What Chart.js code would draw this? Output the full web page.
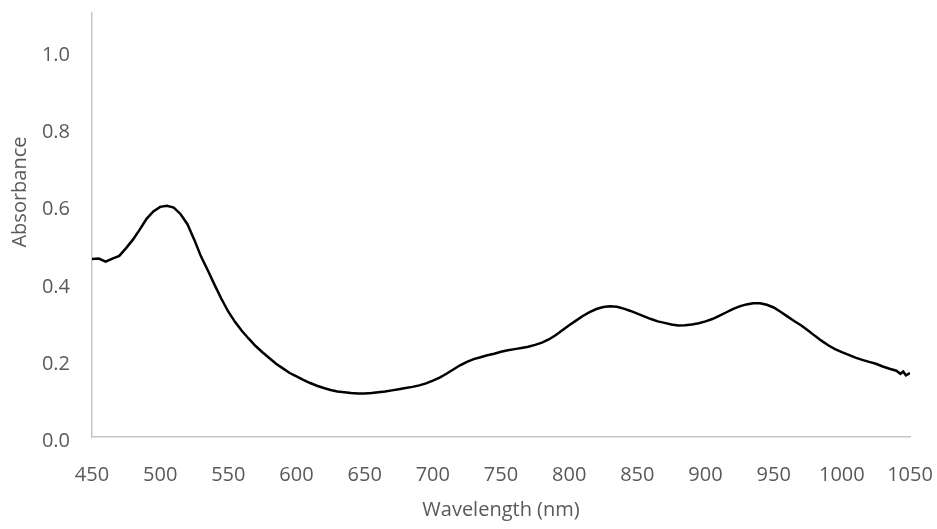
<!DOCTYPE html>
<html>
<head>
<meta charset="utf-8">
<script src="https://cdn.jsdelivr.net/npm/chart.js@4.4.1/dist/chart.umd.min.js"></script>
<style>
  html, body { margin: 0; padding: 0; background: #fff; }
  #wrap { width: 937px; height: 529px; position: relative; }
</style>
</head>
<body>
<div id="wrap"><canvas id="spectrum"></canvas></div>
<script>
// wavelength (nm) and absorbance
const wavelengths = [
    450, 455, 460, 465, 470, 475, 480, 485, 490, 495,
    500, 505, 510, 515, 520, 525, 530, 535, 540, 545,
    550, 555, 560, 565, 570, 575, 580, 585, 590, 595,
    600, 605, 610, 615, 620, 625, 630, 635, 640, 645,
    650, 655, 660, 665, 670, 675, 680, 685, 690, 695,
    700, 705, 710, 715, 720, 725, 730, 735, 740, 745,
    750, 755, 760, 765, 770, 775, 780, 785, 790, 795,
    800, 805, 810, 815, 820, 825, 830, 835, 840, 845,
    850, 855, 860, 865, 870, 875, 880, 885, 890, 895,
    900, 905, 910, 915, 920, 925, 930, 935, 940, 945,
    950, 955, 960, 965, 970, 975, 980, 985, 990, 995,
    1000, 1005, 1010, 1015, 1020, 1025, 1030, 1035, 1040, 1043,
    1045, 1047, 1050
];
const absorbance = [
    0.462, 0.463, 0.455, 0.463, 0.470, 0.490, 0.512, 0.538, 0.566, 0.585,
    0.597, 0.600, 0.595, 0.578, 0.552, 0.512, 0.468, 0.432, 0.394, 0.358,
    0.325, 0.298, 0.275, 0.255, 0.236, 0.220, 0.205, 0.190, 0.178, 0.166,
    0.157, 0.148, 0.140, 0.133, 0.127, 0.122, 0.118, 0.116, 0.114, 0.113,
    0.113, 0.114, 0.116, 0.118, 0.121, 0.124, 0.127, 0.130, 0.134, 0.139,
    0.146, 0.154, 0.164, 0.175, 0.186, 0.195, 0.202, 0.207, 0.212, 0.216,
    0.221, 0.225, 0.228, 0.231, 0.234, 0.239, 0.245, 0.253, 0.264, 0.277,
    0.290, 0.302, 0.314, 0.324, 0.332, 0.337, 0.339, 0.338, 0.333, 0.327,
    0.320, 0.313, 0.306, 0.300, 0.296, 0.292, 0.289, 0.290, 0.292, 0.295,
    0.300, 0.306, 0.314, 0.323, 0.332, 0.339, 0.344, 0.347, 0.347, 0.343,
    0.336, 0.325, 0.313, 0.301, 0.290, 0.277, 0.263, 0.250, 0.238, 0.228,
    0.220, 0.213, 0.206, 0.200, 0.195, 0.190, 0.183, 0.177, 0.172, 0.164,
    0.170, 0.160, 0.166
];
const xTicks = [450, 500, 550, 600, 650, 700, 750, 800, 850, 900, 950, 1000, 1050];
const yTicks = [0, 0.2, 0.4, 0.6, 0.8, 1.0];
const yTitle = "Absorbance";
const xTitle = "Wavelength (nm)";

const textColor = "#595959";
const axisColor = "#c6c6c6";
const fontFamily = "'Open Sans', 'Liberation Sans', sans-serif";

const points = wavelengths.map((w, i) => ({x: w, y: absorbance[i]}));

// y title sits a bit above the middle of the axis in the original
const yTitlePlugin = {
    id: "yTitle",
    afterDraw(chart) {
        const {ctx} = chart;
        ctx.save();
        ctx.translate(20, 192);
        ctx.rotate(-Math.PI / 2);
        ctx.font = `20px ${fontFamily}`;
        ctx.fillStyle = textColor;
        ctx.textAlign = "center";
        ctx.textBaseline = "middle";
        ctx.fillText(yTitle, 0, 0);
        ctx.restore();
    }
};

new Chart(document.querySelector("#spectrum"), {
    type: "line",
    data: {
        datasets: [{
            label: yTitle,
            data: points,
            borderColor: "#000000",
            borderWidth: 2.5,
            pointRadius: 0,
            tension: 0,
            fill: false,
        }]
    },
    options: {
        responsive: true,
        maintainAspectRatio: false,
        animation: false,
        layout: {
            padding: {left: 0, right: 27, top: 13, bottom: 0}
        },
        plugins: {
            legend: {display: false},
            tooltip: {enabled: false},
        },
        scales: {
            x: {
                type: "linear",
                min: 450,
                max: 1050,
                afterBuildTicks: scale => {
                    scale.ticks = xTicks.map(v => ({value: v}));
                },
                afterFit: scale => {
                    scale.height = 92;
                    scale.paddingLeft = 0;
                    scale.paddingRight = 0;
                },
                grid: {color: "rgba(0,0,0,0)", drawTicks: false},
                border: {display: true, color: axisColor, width: 1.5},
                ticks: {
                    color: textColor,
                    padding: 26,
                    maxRotation: 0,
                    autoSkip: false,
                    font: {family: fontFamily, size: 20},
                    callback: v => String(v),
                },
                title: {
                    display: true,
                    text: xTitle,
                    color: textColor,
                    font: {family: fontFamily, size: 20},
                    padding: {top: 0, bottom: 7},
                }
            },
            y: {
                min: 0,
                max: 1.1,
                afterBuildTicks: scale => {
                    scale.ticks = yTicks.map(v => ({value: v}));
                },
                afterFit: scale => {
                    scale.width = 92;
                    scale.paddingTop = 0;
                    scale.paddingBottom = 0;
                },
                grid: {color: "rgba(0,0,0,0)", drawTicks: false},
                border: {display: true, color: axisColor, width: 1.5},
                ticks: {
                    color: textColor,
                    padding: 22,
                    labelOffset: 4,
                    font: {family: fontFamily, size: 20},
                    callback: v => v.toFixed(1),
                },
                title: {display: false}
            }
        }
    },
    plugins: [yTitlePlugin]
});
</script>
</body>
</html>
